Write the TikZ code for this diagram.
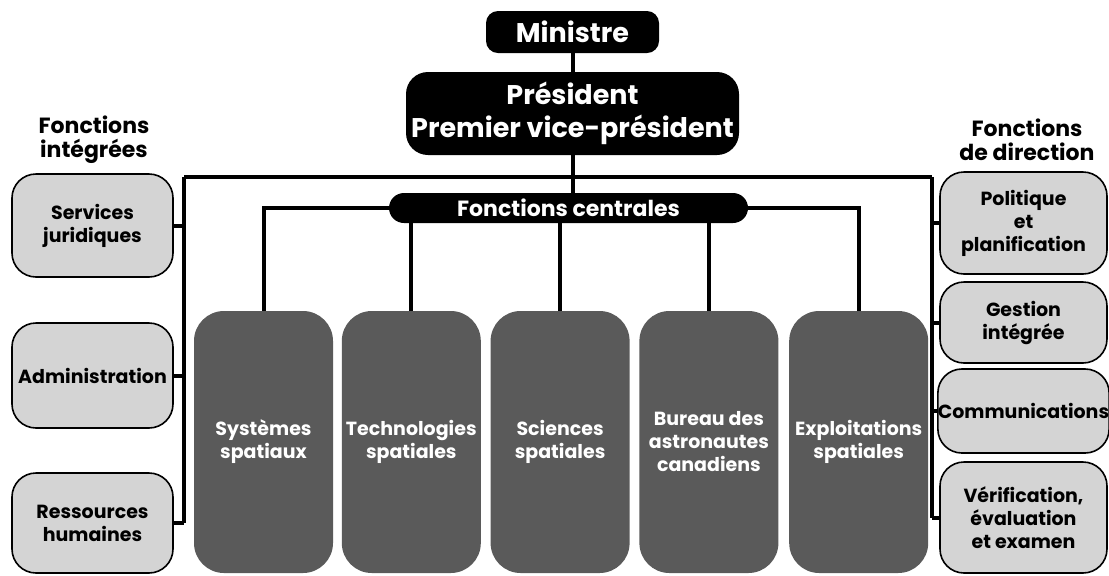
\documentclass[tikz,border=0pt]{standalone}
\usepackage{fontspec}
\setmainfont{Poppins}
\usetikzlibrary{positioning}

\definecolor{lightbox}{HTML}{D4D4D4}
\definecolor{darkbox}{HTML}{5A5A5A}

\begin{document}
\begin{tikzpicture}[
    x = 0.5pt, y = -0.5pt,
    chief/.style =
    { shape       = rectangle,
      fill        = black,
      text        = white,
      align       = center,
      inner sep   = 0pt,
      font        = \bfseries\fontsize{13.5}{16.5}\selectfont },
    side/.style =
    { shape           = rectangle,
      draw            = black,
      line width      = 0.8pt,
      fill            = lightbox,
      rounded corners = 12pt,
      align           = center,
      inner sep       = 0pt,
      font            = \bfseries\fontsize{9.5}{11.5}\selectfont },
    branch/.style =
    { shape           = rectangle,
      fill            = darkbox,
      text            = white,
      rounded corners = 15pt,
      align           = center,
      inner sep       = 0pt,
      minimum width   = 69.5pt,
      minimum height  = 131pt,
      font            = \bfseries\fontsize{9.5}{11.5}\selectfont },
    heading/.style =
    { align     = center,
      inner sep = 0pt,
      font      = \bfseries\fontsize{11}{12}\selectfont },
    link/.style =
    { line width = 2pt }
  ]
  \useasboundingbox (0,0) rectangle (1109,575);

  % top of the hierarchy
  \node[chief, rounded corners = 6pt, minimum width = 86.5pt, minimum height = 21pt]
    (ministre) at (572.5,32) {Ministre};
  \node[chief, rounded corners = 11pt, minimum width = 166.5pt, minimum height = 41.5pt]
    (president) at (572.5,113.5) {Président\\Premier vice-président};
  \node[chief, rounded corners = 7.5pt, minimum width = 179.5pt, minimum height = 15pt,
        font = \bfseries\fontsize{11}{12}\selectfont]
    (centrales) at (568.5,208) {Fonctions centrales};

  % integrated functions
  \node[heading] (integrees) at (94,140) {Fonctions\\intégrées};
  \node[side, minimum width = 80.5pt, minimum height = 51.5pt]
    (juridiques) at (92.5,225.5) {Services\\juridiques};
  \node[side, minimum width = 80.5pt, minimum height = 52.5pt]
    (administration) at (92.5,375.5) {Administration};
  \node[side, minimum width = 80.5pt, minimum height = 50pt]
    (ressources) at (92.5,523) {Ressources\\humaines};

  % direction functions
  \node[heading] (direction) at (1027,140) {Fonctions\\de direction};
  \node[side, minimum width = 83.5pt, minimum height = 51pt]
    (politique) at (1023.5,223) {Politique\\et\\planification};
  \node[side, minimum width = 83.5pt, minimum height = 40.5pt]
    (gestion) at (1023.5,322.5) {Gestion\\intégrée};
  \node[side, minimum width = 83.5pt, minimum height = 42pt]
    (communications) at (1023.5,411) {Communications};
  \node[side, minimum width = 83.5pt, minimum height = 55.5pt]
    (verification) at (1023.5,517.5) {Vérification,\\évaluation\\et examen};

  % branches
  \node[branch] (systemes) at (263.5,442) {Systèmes\\spatiaux};
  \node[branch, right = 4pt of systemes] (technologies) {Technologies\\spatiales};
  \node[branch, right = 4.5pt of technologies] (sciences) {Sciences\\spatiales};
  \node[branch, right = 4.5pt of sciences] (bureau) {Bureau des\\astronautes\\canadiens};
  \node[branch, right = 5pt of bureau] (exploitations) {Exploitations\\spatiales};

  \coordinate (busL) at (184,177);
  \coordinate (busR) at (932,177);

  \draw[link] (ministre) -- (president);
  \draw[link] (president.south) -- (president.south |- centrales.north);
  \draw[link] (busL) -- (busR);
  \draw[link] (busL) -- (busL |- ressources.east);
  \draw[link] (busR) -- (busR |- verification.west);
  \draw[link] (juridiques.east) -- (juridiques.east -| busL);
  \draw[link] (administration.east) -- (administration.east -| busL);
  \draw[link] (ressources.east) -- (ressources.east -| busL);
  \draw[link] (politique.west) -- (politique.west -| busR);
  \draw[link] (gestion.west) -- (gestion.west -| busR);
  \draw[link] (communications.west) -- (communications.west -| busR);
  \draw[link] (verification.west) -- (verification.west -| busR);

  \draw[link] (systemes.north) |- (centrales.west);
  \draw[link] (exploitations.north) |- (centrales.east);
  \draw[link] (technologies.north) -- (technologies.north |- centrales.south);
  \draw[link] (sciences.north) -- (sciences.north |- centrales.south);
  \draw[link] (bureau.north) -- (bureau.north |- centrales.south);
\end{tikzpicture}
\end{document}
